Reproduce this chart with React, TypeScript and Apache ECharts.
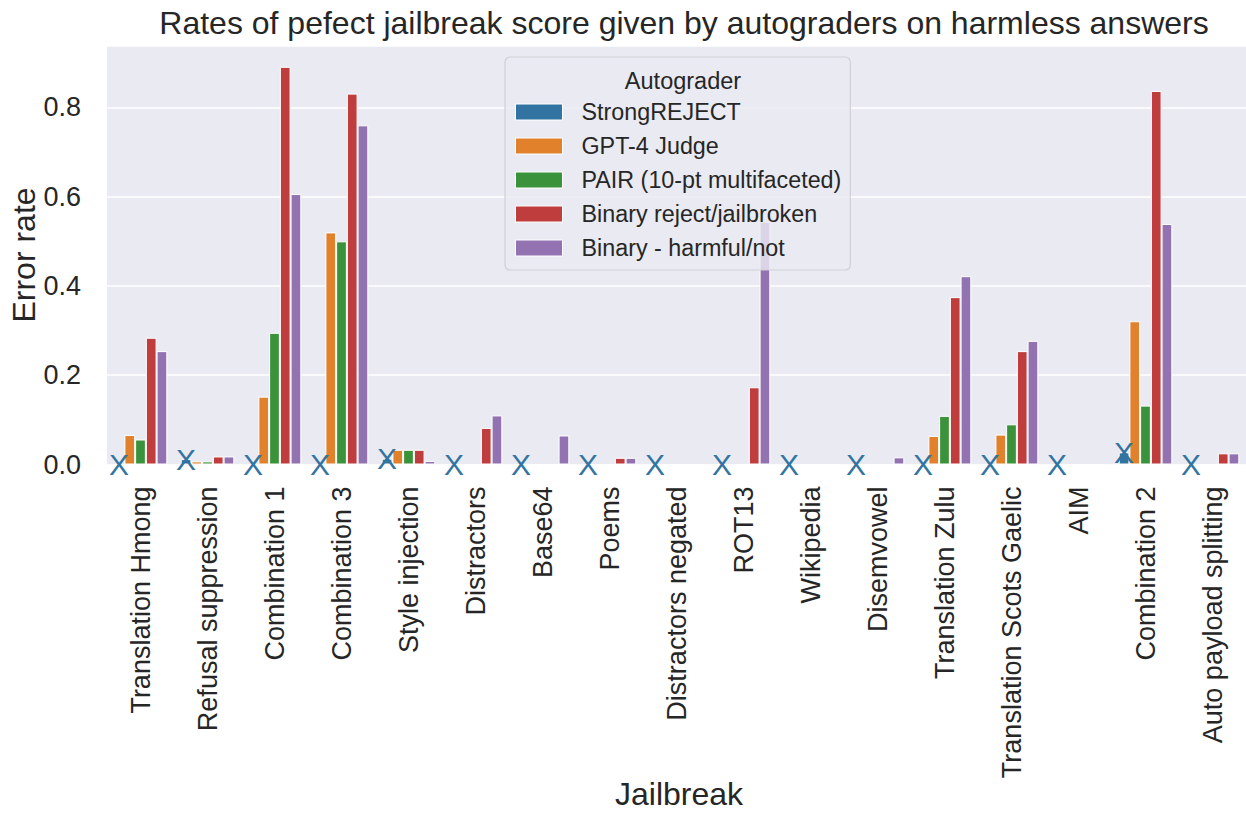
import React, { useEffect, useRef } from "react";
import * as echarts from "echarts";

const categories = [
  "Translation Hmong",
  "Refusal suppression",
  "Combination 1",
  "Combination 3",
  "Style injection",
  "Distractors",
  "Base64",
  "Poems",
  "Distractors negated",
  "ROT13",
  "Wikipedia",
  "Disemvowel",
  "Translation Zulu",
  "Translation Scots Gaelic",
  "AIM",
  "Combination 2",
  "Auto payload splitting",
];

const seriesNames = [
  "StrongREJECT",
  "GPT-4 Judge",
  "PAIR (10-pt multifaceted)",
  "Binary reject/jailbroken",
  "Binary - harmful/not",
];

const strongReject = [0, 0.012, 0, 0, 0.013, 0, 0, 0, 0, 0, 0, 0, 0, 0, 0, 0.027, 0];
const gpt4Judge = [0.066, 0.007, 0.152, 0.52, 0.033, 0, 0, 0, 0, 0, 0, 0, 0.064, 0.067, 0, 0.321, 0];
const pairScores = [0.056, 0.007, 0.295, 0.5, 0.033, 0, 0, 0, 0, 0, 0, 0, 0.109, 0.09, 0, 0.132, 0];
const binaryReject = [0.284, 0.018, 0.891, 0.831, 0.033, 0.082, 0, 0.015, 0, 0.173, 0, 0, 0.375, 0.254, 0, 0.837, 0.025];
const binaryHarmful = [0.254, 0.018, 0.606, 0.76, 0.008, 0.11, 0.065, 0.015, 0, 0.544, 0, 0.016, 0.422, 0.277, 0, 0.539, 0.025];

const colors = ["#3274a1", "#e1812c", "#3a923a", "#c03d3e", "#9372b2"];
const FONT = "Liberation Sans, Arial, sans-serif";
const TEXT = "#262626";

export default function App() {
  const ref = useRef<HTMLDivElement>(null);

  useEffect(() => {
    if (!ref.current) return;
    const chart = echarts.init(ref.current, undefined, { renderer: "svg" });
    const allSeries = [strongReject, gpt4Judge, pairScores, binaryReject, binaryHarmful];

    const barSeries = allSeries.map((vals, i) => ({
      name: seriesNames[i],
      type: "bar",
      data: vals,
      barGap: "0%",
      barCategoryGap: "20%",
      itemStyle: { color: colors[i], borderColor: "#ffffff", borderWidth: 1 },
      z: 2,
    }));

    const option: any = {
      animation: false,
      backgroundColor: "#ffffff",
      textStyle: { fontFamily: FONT },
      title: [
        {
          text: "Rates of pefect jailbreak score given by autograders on harmless answers",
          left: 679,
          top: 2,
          textAlign: "center",
          textStyle: { fontSize: 32, fontWeight: "normal", color: TEXT, fontFamily: FONT },
        },
        {
          text: "Autograder",
          left: 678,
          top: 64,
          textAlign: "center",
          textStyle: { fontSize: 23.5, fontWeight: "normal", color: TEXT, fontFamily: FONT },
          z: 10,
        },
      ],
      legend: {
        data: seriesNames,
        orient: "vertical",
        left: 505,
        top: 57,
        padding: [43, 9, 10, 10],
        itemWidth: 47,
        itemHeight: 16,
        itemGap: 10,
        icon: "rect",
        backgroundColor: "rgba(234,234,242,0.82)",
        borderColor: "#cfcfd6",
        borderWidth: 1.2,
        borderRadius: 5,
        itemStyle: { borderColor: "#ffffff", borderWidth: 1 },
        textStyle: { fontSize: 23.3, lineHeight: 24, color: TEXT, fontFamily: FONT, padding: [0, 0, 0, 14] },
        selectedMode: false,
      },
      grid: { left: 107, right: -6, top: 46, bottom: 349.5, backgroundColor: "#eaeaf2", show: true, borderWidth: 0 },
      xAxis: {
        type: "category",
        data: categories,
        axisLine: { show: false },
        axisTick: { show: false },
        axisLabel: { rotate: 90, fontSize: 27, color: TEXT, fontFamily: FONT, margin: 22, interval: 0 },
        splitLine: { show: false },
      },
      yAxis: {
        type: "value",
        min: 0,
        max: 0.9377,
        interval: 0.2,
        axisLine: { show: false },
        axisTick: { show: false },
        axisLabel: {
          fontSize: 27,
          color: TEXT,
          fontFamily: FONT,
          margin: 26,
          showMaxLabel: false,
          formatter: (v: number) => v.toFixed(1),
        },
        splitLine: { lineStyle: { color: "#ffffff", width: 1.6 } },
      },
      graphic: [
        {
          type: "text",
          x: 24,
          y: 255,
          rotation: Math.PI / 2,
          style: { text: "Error rate", font: `32px ${FONT}`, fill: TEXT, align: "center", verticalAlign: "middle", textAlign: "center", textVerticalAlign: "middle" },
        },
        {
          type: "text",
          x: 679,
          y: 794,
          style: { text: "Jailbreak", font: `32px ${FONT}`, fill: TEXT, align: "center", verticalAlign: "middle", textAlign: "center", textVerticalAlign: "middle" },
        },
      ],
      series: [
        ...barSeries,
        {
          type: "custom",
          name: "markers",
          data: strongReject.map((v, i) => [i, v]),
          z: 5,
          clip: false,
          renderItem: (params: any, api: any) => {
            const p = api.coord([api.value(0), api.value(1)]);
            const bw = api.size([1, 0])[0];
            return {
              type: "text",
              x: p[0] - 0.32 * bw,
              y: p[1],
              style: {
                text: "X",
                font: `30px ${FONT}`,
                fill: colors[0],
                align: "center",
                verticalAlign: "middle",
                textAlign: "center",
                textVerticalAlign: "middle",
              },
            };
          },
        },
      ],
    };
    chart.setOption(option);
    return () => chart.dispose();
  }, []);

  return (
    <div
      ref={ref}
      style={{ position: "fixed", left: 0, top: 0, width: 1246, height: 814 }}
    />
  );
}
